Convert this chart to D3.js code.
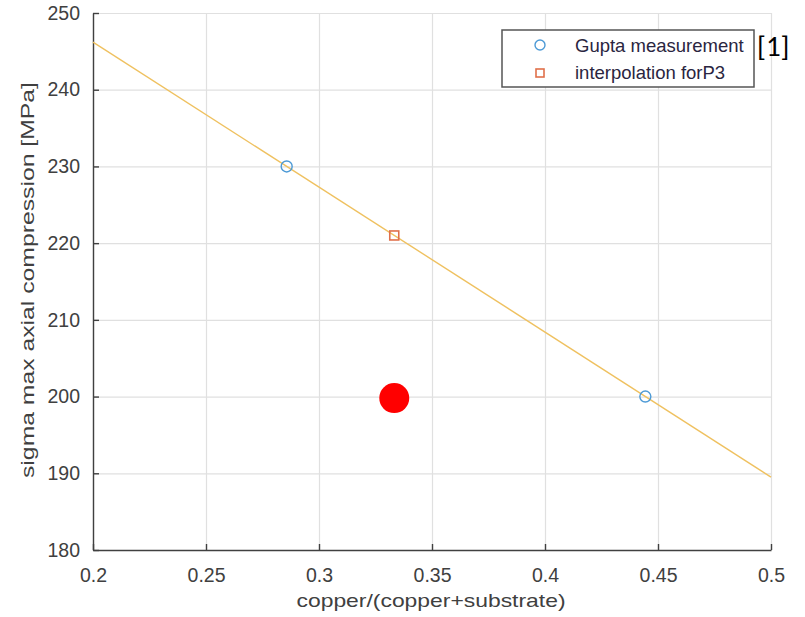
<!DOCTYPE html>
<html>
<head>
<meta charset="utf-8">
<script src="https://cdn.jsdelivr.net/npm/d3@7"></script>
<style>
  body { margin: 0; background: #fff; }
  svg { display: block; font-family: "Liberation Sans", Arial, sans-serif; }
</style>
</head>
<body>
<div id="chart"></div>
<script>
// data
const guptaX = [0.2857, 0.4444];
const guptaY = [230, 200];
const interpX = [0.3333];
const interpY = [221];
const fitX = [0.2, 0.5];
const fitY = [246.2, 189.5];
const ownX = [0.3333];
const ownY = [199.8];
const xTicks = [0.2, 0.25, 0.3, 0.35, 0.4, 0.45, 0.5];
const yTicks = [180, 190, 200, 210, 220, 230, 240, 250];
const legendLabels = ["Gupta measurement", "interpolation forP3"];

const w = 805, h = 617;
const margin = { left: 93, right: 34, top: 13, bottom: 67 };
const gw = w - margin.left - margin.right;
const gh = h - margin.top - margin.bottom;

const svg = d3.select("#chart").append("svg")
    .attr("width", w)
    .attr("height", h);

const graph = svg.append("g")
    .attr("transform", `translate(${margin.left},${margin.top})`);

// scales
const xScale = d3.scaleLinear().domain([0.2, 0.5]).range([0, gw]);
const yScale = d3.scaleLinear().domain([180, 250]).range([gh, 0]);

// grid
graph.append("g").attr("class", "grid")
    .call(d3.axisBottom(xScale).tickValues(xTicks).tickSize(gh).tickFormat(""))
    .call(g => g.select(".domain").remove())
    .selectAll("line").attr("stroke", "#e0e0e0").attr("stroke-width", 1.2);
graph.append("g").attr("class", "grid")
    .call(d3.axisLeft(yScale).tickValues(yTicks).tickSize(-gw).tickFormat(""))
    .call(g => g.select(".domain").remove())
    .selectAll("line").attr("stroke", "#e0e0e0").attr("stroke-width", 1.2);

// axes, ticks inward
const xgrp = graph.append("g")
    .attr("transform", `translate(0,${gh})`)
    .call(d3.axisBottom(xScale).tickValues(xTicks).tickSize(-6).tickSizeOuter(0)
        .tickPadding(14).tickFormat(d => d));
const ygrp = graph.append("g")
    .call(d3.axisLeft(yScale).tickValues(yTicks).tickSize(-6).tickSizeOuter(0)
        .tickPadding(13).tickFormat(d => d));

[xgrp, ygrp].forEach(g => {
    g.select(".domain").attr("stroke", "#404040").attr("stroke-width", 1.4);
    g.selectAll(".tick line").attr("stroke", "#404040").attr("stroke-width", 1.4);
    g.selectAll("text")
        .attr("font-size", "19.5px")
        .attr("fill", "#404040")
        .attr("font-family", "Liberation Sans, Arial, sans-serif");
});
xgrp.selectAll("text").attr("dy", "0.9em");

// fitted line
const line = d3.line().x(d => xScale(d[0])).y(d => yScale(d[1]));
graph.append("path")
    .datum(fitX.map((x, i) => [x, fitY[i]]))
    .attr("d", line)
    .attr("fill", "none")
    .attr("stroke", "#efc160")
    .attr("stroke-width", 1.4);

// gupta points
graph.selectAll(".gupta")
    .data(guptaX.map((x, i) => [x, guptaY[i]]))
    .enter().append("circle")
    .attr("class", "gupta")
    .attr("cx", d => xScale(d[0]))
    .attr("cy", d => yScale(d[1]))
    .attr("r", 5.5)
    .attr("fill", "none")
    .attr("stroke", "#4d9ad6")
    .attr("stroke-width", 1.4);

// interpolation point
graph.selectAll(".interp")
    .data(interpX.map((x, i) => [x, interpY[i]]))
    .enter().append("rect")
    .attr("class", "interp")
    .attr("x", d => xScale(d[0]) - 4.5)
    .attr("y", d => yScale(d[1]) - 4.5)
    .attr("width", 9)
    .attr("height", 9)
    .attr("fill", "none")
    .attr("stroke", "#e0704a")
    .attr("stroke-width", 1.6);

// own result
graph.selectAll(".own")
    .data(ownX.map((x, i) => [x, ownY[i]]))
    .enter().append("circle")
    .attr("class", "own")
    .attr("cx", d => xScale(d[0]))
    .attr("cy", d => yScale(d[1]))
    .attr("r", 15)
    .attr("fill", "#ff0000");

// legend
const legend = svg.append("g").attr("transform", "translate(502,30)");
legend.append("rect")
    .attr("width", 252).attr("height", 57)
    .attr("fill", "#fff")
    .attr("stroke", "#555").attr("stroke-width", 1.5);
legend.append("circle")
    .attr("cx", 38).attr("cy", 15).attr("r", 5)
    .attr("fill", "none").attr("stroke", "#4d9ad6").attr("stroke-width", 1.4);
legend.append("rect")
    .attr("x", 34).attr("y", 39).attr("width", 8).attr("height", 8)
    .attr("fill", "none").attr("stroke", "#e0704a").attr("stroke-width", 1.6);
legend.selectAll(".ltxt")
    .data(legendLabels)
    .enter().append("text")
    .attr("class", "ltxt")
    .text(d => d)
    .attr("x", 73)
    .attr("y", (d, i) => 22 + i * 27)
    .attr("font-size", "18.5px")
    .attr("fill", "#2a2540");

svg.append("text")
    .text("[1]")
    .attr("x", 757).attr("y", 56)
    .attr("font-size", "29px")
    .attr("font-family", "Carlito, Liberation Sans, sans-serif")
    .attr("fill", "#000");

// axis labels
svg.append("text")
    .text("copper/(copper+substrate)")
    .attr("x", 431)
    .attr("y", 607)
    .attr("text-anchor", "middle")
    .attr("font-size", "19px")
    .attr("textLength", 269)
    .attr("lengthAdjust", "spacingAndGlyphs")
    .attr("fill", "#404040");
svg.append("text")
    .text("sigma max axial compression [MPa]")
    .attr("transform", `translate(34,280) rotate(-90)`)
    .attr("text-anchor", "middle")
    .attr("font-size", "19px")
    .attr("textLength", 396)
    .attr("lengthAdjust", "spacingAndGlyphs")
    .attr("fill", "#404040");
</script>
</body>
</html>
